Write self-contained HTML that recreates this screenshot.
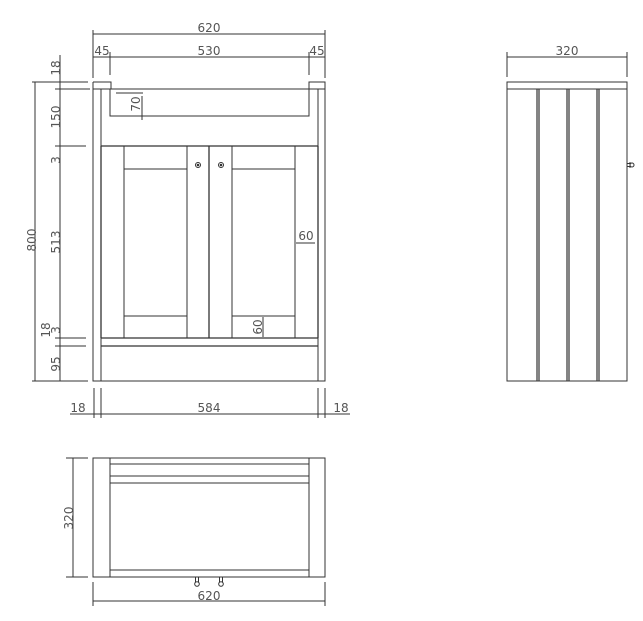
<!DOCTYPE html>
<html><head><style>html,body{margin:0;padding:0;background:#fff}svg{display:block}</style></head>
<body>
<svg width="643" height="621" viewBox="0 0 643 621" xmlns="http://www.w3.org/2000/svg">
<g stroke="#333" stroke-width="1" fill="none">
<path d="M93 82H111V89M93 82V381H325V82H309V89M93 89H325"/>
<path d="M101 89V381M318 89V381M110 89V116H309V89"/>
<path d="M101 146H318M101 338H318M101 346H318" stroke-width="1.3"/>
<path d="M101 146V338M318 146V338M209 146V338" stroke-width="1.3"/>
<path d="M124 146V338M187 146V338M232 146V338M295 146V338M124 169H187M232 169H295M124 316H187M232 316H295"/>
<circle cx="198" cy="165" r="2.5"/><circle cx="221" cy="165" r="2.5"/>
<circle cx="198" cy="165" r="0.8" fill="#333"/><circle cx="221" cy="165" r="0.8" fill="#333"/>
<path d="M93 30V78M325 30V78M93 34H325M110 52V75M309 52V75M93 57H325"/>
<path d="M116 93H143M142 96V120M296 243H315M263 317V337"/>
<path d="M35 82V381M32 82H88M32 381H88M60 55V381M55 89H90M55 146H86M55 338H86M55 346H86"/>
<path d="M94 388V418M101 388V418M318 388V418M325 388V418M70 414H350"/>
<path d="M507 82H627V381H507ZM507 89H627"/>
<path d="M537 89V381M539 89V381M567 89V381M569 89V381M597 89V381M599 89V381" stroke-width="1.2"/>
<path d="M627 163.5h3M627 166.5h3M630 162v6"/><circle cx="632" cy="165" r="2"/>
<path d="M507 52V77M627 52V77M507 57H627"/>
<path d="M93 458H325V577H93ZM110 458V577M309 458V577M110 464H309M110 476H309M110 483H309M110 570H309"/>
<path d="M195.5 577v5M198.5 577v5M219.5 577v5M222.5 577v5"/>
<circle cx="197" cy="584" r="2.3"/><circle cx="221" cy="584" r="2.3"/>
<path d="M66 458H88M66 577H88M73 458V577M93 582V606M325 582V606M93 601H325"/>
</g>
<g font-family="DejaVu Sans, sans-serif" font-size="12" fill="#555" text-anchor="middle">
<text x="209" y="32">620</text>
<text x="209" y="55">530</text>
<text x="102" y="55">45</text>
<text x="317" y="55">45</text>
<text x="567" y="55">320</text>
<text x="78" y="412">18</text>
<text x="209" y="412">584</text>
<text x="341" y="412">18</text>
<text x="209" y="600">620</text>
<text x="306" y="240">60</text>
<text transform="translate(140,104) rotate(-90)">70</text>
<text transform="translate(262,327) rotate(-90)">60</text>
<text transform="translate(36,240) rotate(-90)">800</text>
<text transform="translate(60,68) rotate(-90)">18</text>
<text transform="translate(60,117) rotate(-90)">150</text>
<text transform="translate(60,160) rotate(-90)">3</text>
<text transform="translate(60,242) rotate(-90)">513</text>
<text transform="translate(60,330) rotate(-90)">3</text>
<text transform="translate(50,330) rotate(-90)">18</text>
<text transform="translate(60,364) rotate(-90)">95</text>
<text transform="translate(73,518) rotate(-90)">320</text>
</g>
</svg>
</body></html>
